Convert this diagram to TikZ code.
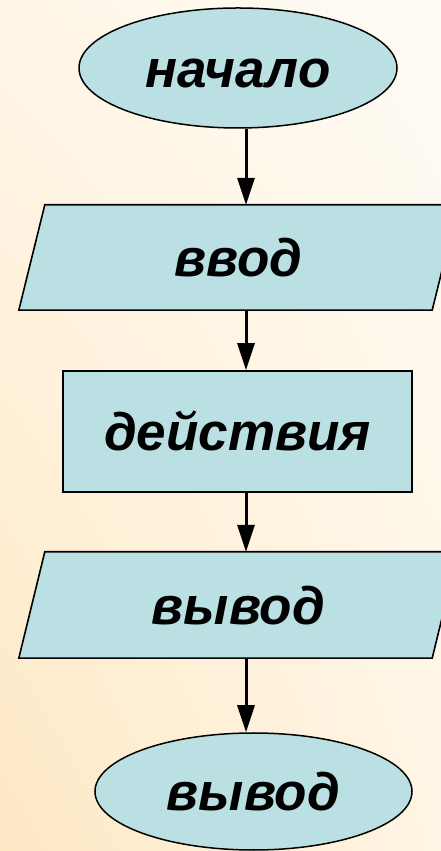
\documentclass[tikz,border=0pt]{standalone}
\usepackage{fontspec}
\setmainfont{Liberation Sans}
\usetikzlibrary{shapes.geometric,arrows.meta,backgrounds,calc,shadings}
\definecolor{shapefill}{RGB}{186,224,227}
\definecolor{bgul}{RGB}{255,246,232}
\definecolor{bgur}{RGB}{255,252,245}
\definecolor{bgll}{RGB}{254,232,196}
\definecolor{bglr}{RGB}{255,245,228}
\begin{document}
\begin{tikzpicture}[x=1pt,y=1pt,
  lbl/.style={font=\fontsize{53}{60}\selectfont\bfseries\itshape, text height=39pt, text depth=0pt, inner sep=0pt},
  term/.style={lbl, ellipse, draw, line width=1.5pt, fill=shapefill},
  proc/.style={lbl, rectangle, draw, line width=1.6pt, fill=shapefill},
  io/.style={lbl, rectangle},
  iobox/.style={line width=1.6pt, fill=shapefill},
  arr/.style={line width=3pt, -{Triangle[length=27pt,width=17pt]}}]
\useasboundingbox (0,0) rectangle (441,851);
\node[term, minimum width=318pt, minimum height=120pt] (start) at (238,783) {начало};
\node[io, minimum width=413pt, minimum height=105pt] (in) at (238.5,593.5) {ввод};
\node[proc, minimum width=349pt, minimum height=121pt] (act) at (237.5,419.5) {действия};
\node[io, minimum width=413pt, minimum height=106pt] (out) at (238.5,246) {вывод};
\node[term, minimum width=317pt, minimum height=117pt] (end) at (253.5,59.5) {вывод};
\begin{pgfonlayer}{background}
  \shade[upper left=bgul, upper right=bgur, lower left=bgll, lower right=bglr] (0,0) rectangle (441,851);
  \foreach \n in {in,out}
    \draw[iobox] ($(\n.south west)+(-13,0)$) -- ($(\n.south east)+(-13,0)$)
      -- ($(\n.north east)+(13,0)$) -- ($(\n.north west)+(13,0)$) -- cycle;
\end{pgfonlayer}
\coordinate (ax) at (246,0);
\draw[arr] (start.south -| ax) -- (in.north -| ax);
\draw[arr] (in.south -| ax) -- (act.north -| ax);
\draw[arr] (act.south -| ax) -- (out.north -| ax);
\draw[arr] (out.south -| ax) -- (end.north -| ax);
\end{tikzpicture}
\end{document}
